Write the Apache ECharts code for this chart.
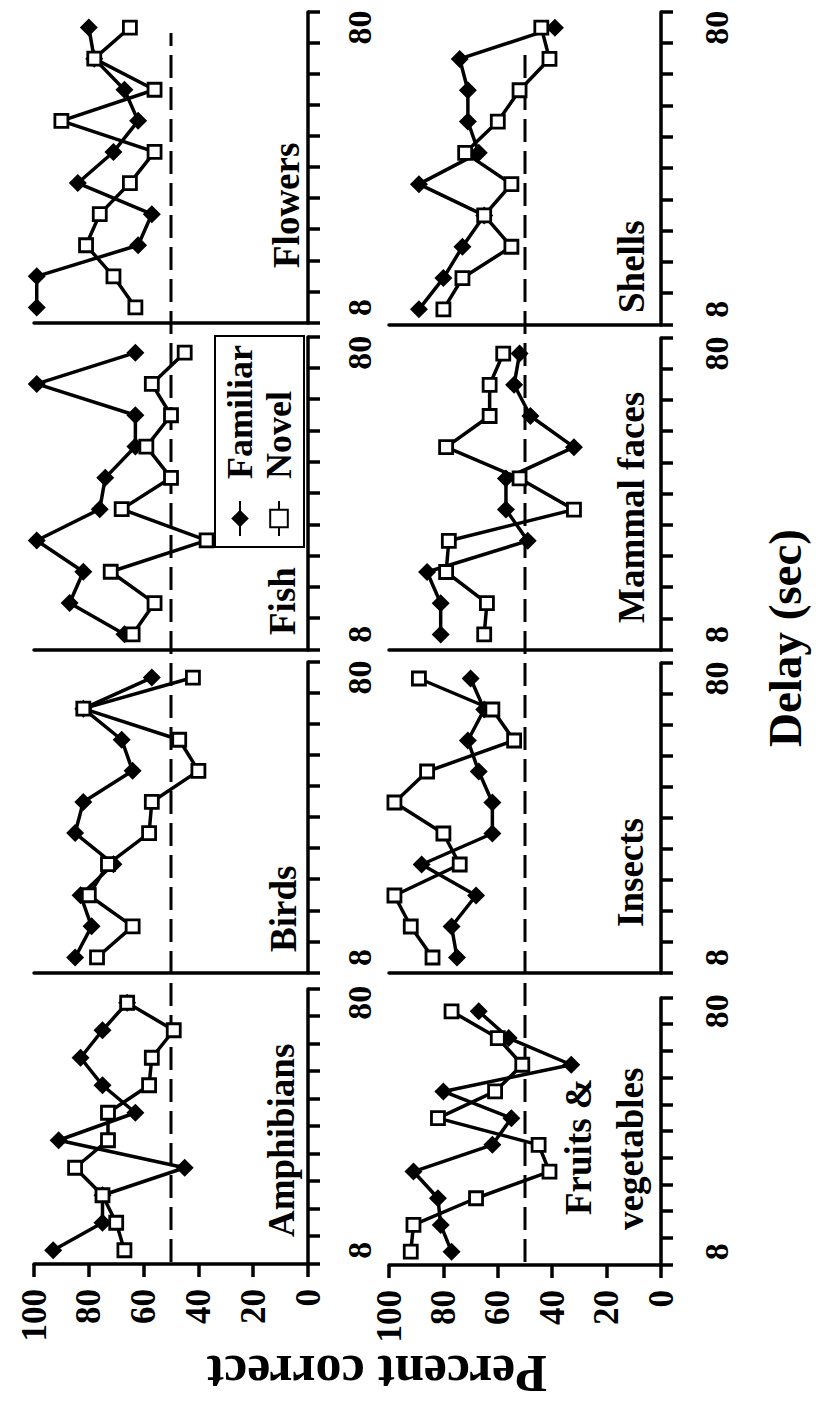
<!DOCTYPE html>
<html>
<head>
<meta charset="utf-8">
<script src="https://cdn.jsdelivr.net/npm/echarts@6/dist/echarts.min.js"></script>
<style>
  html, body { margin: 0; padding: 0; background: #fff; overflow: hidden; width: 816px; height: 1403px; }
  #chart { position: absolute; left: 0; top: 0; width: 1403px; height: 816px;
           transform-origin: 0 0; transform: translate(0px, 1403px) rotate(-90deg); }
</style>
</head>
<body>
<div id="chart"></div>
<script>
// ---------------- data ----------------
const DELAYS = ['8', '16', '24', '32', '40', '48', '56', '64', '72', '80'];
const CHANCE = 50;
const SERIES_NAMES = ['Familiar', 'Novel'];
const AXIS_TITLE_X = 'Delay (sec)';
const AXIS_TITLE_Y = 'Percent correct';

const AMPHIBIANS_FAMILIAR = [93, 75, 75, 45, 91, 63, 75, 83, 75, 66];
const AMPHIBIANS_NOVEL    = [67, 70, 75, 85, 73, 73, 58, 57, 49, 66];
const BIRDS_FAMILIAR      = [85, 79, 83, 71, 85, 82, 64, 68, 82, 57];
const BIRDS_NOVEL         = [77, 64, 80, 73, 58, 57, 40, 47, 82, 42];
const FISH_FAMILIAR       = [67, 87, 82, 99, 76, 74, 63, 63, 99, 63];
const FISH_NOVEL          = [64, 56, 72, 37, 68, 50, 59, 50, 57, 45];
const FLOWERS_FAMILIAR    = [99, 99, 62, 57, 84, 71, 62, 67, 78, 80];
const FLOWERS_NOVEL       = [63, 71, 81, 76, 65, 56, 90, 56, 78, 65];
const FRUITS_FAMILIAR     = [77, 81, 82, 91, 62, 55, 80, 33, 56, 67];
const FRUITS_NOVEL        = [92, 91, 68, 41, 45, 82, 61, 51, 60, 77];
const INSECTS_FAMILIAR    = [75, 77, 68, 88, 62, 62, 67, 71, 65, 70];
const INSECTS_NOVEL       = [84, 92, 98, 74, 80, 98, 86, 54, 62, 89];
const MAMMAL_FAMILIAR     = [81, 81, 86, 49, 57, 57, 32, 48, 54, 52];
const MAMMAL_NOVEL        = [65, 64, 79, 78, 32, 52, 79, 63, 63, 58];
const SHELLS_FAMILIAR     = [89, 80, 73, 65, 89, 67, 71, 71, 74, 39];
const SHELLS_NOVEL        = [80, 73, 55, 65, 55, 72, 60, 52, 41, 44];

const PANEL_TITLES = ['Amphibians', 'Birds', 'Fish', 'Flowers',
                      'Fruits &\nvegetables', 'Insects', 'Mammal faces', 'Shells'];
const PANEL_FAMILIAR = [AMPHIBIANS_FAMILIAR, BIRDS_FAMILIAR, FISH_FAMILIAR, FLOWERS_FAMILIAR,
                        FRUITS_FAMILIAR, INSECTS_FAMILIAR, MAMMAL_FAMILIAR, SHELLS_FAMILIAR];
const PANEL_NOVEL = [AMPHIBIANS_NOVEL, BIRDS_NOVEL, FISH_NOVEL, FLOWERS_NOVEL,
                     FRUITS_NOVEL, INSECTS_NOVEL, MAMMAL_NOVEL, SHELLS_NOVEL];

// ---------------- layout (unrotated figure coordinates) ----------------
const FONT = '"Liberation Serif", "Times New Roman", serif';
const ROWS = [{ top: 34, height: 274, labelMargin: 34 }, { top: 389, height: 272, labelMargin: 38 }];
const PANEL_BOX = [
  { left: 139, width: 275 }, { left: 430, width: 311 }, { left: 753, width: 313 }, { left: 1080, width: 311 },
  { left: 138, width: 267 }, { left: 430, width: 310 }, { left: 753, width: 312 }, { left: 1078, width: 313 }
];
const TITLE_POS = [
  [166, 281], [451, 283], [768, 282], [1135, 286],
  [188, 578], [476, 630], [780, 631], [1090, 631]
];
const REF_LINES = [{ left: 141, width: 1229 }, { left: 141, width: 1214 }];

const grids = [], xAxes = [], yAxes = [], series = [], graphics = [];

PANEL_TITLES.forEach((title, i) => {
  const row = i < 4 ? 0 : 1;
  const first = (i % 4) === 0;
  const R = ROWS[row], B = PANEL_BOX[i];
  grids.push({ left: B.left, width: B.width, top: R.top, height: R.height, containLabel: false });
  xAxes.push({
    type: 'category', gridIndex: i, data: DELAYS, boundaryGap: true,
    axisLine: { lineStyle: { color: '#000', width: 3.5 } },
    axisTick: { show: true, interval: 0, length: 12, alignWithLabel: false, lineStyle: { color: '#000', width: 3.5 } },
    axisLabel: { interval: (idx) => idx === 0 || idx === DELAYS.length - 1, margin: R.labelMargin,
                 color: '#000', fontFamily: FONT, fontWeight: 'bold', fontSize: 34 },
    splitLine: { show: false }
  });
  yAxes.push({
    type: 'value', gridIndex: i, min: 0, max: 100, interval: 20,
    axisLine: { show: true, lineStyle: { color: '#000', width: 3.5 } },
    axisTick: { show: first, length: 13, lineStyle: { color: '#000', width: 3.5 } },
    axisLabel: { show: first, margin: 25, color: '#000', fontFamily: FONT, fontWeight: 'bold', fontSize: 35 },
    splitLine: { show: false }
  });
  series.push({
    name: SERIES_NAMES[0], type: 'line', xAxisIndex: i, yAxisIndex: i, data: PANEL_FAMILIAR[i],
    symbol: 'diamond', symbolSize: 18, showAllSymbol: true, z: 3,
    lineStyle: { color: '#000', width: 3.5 }, itemStyle: { color: '#000' }
  });
  series.push({
    name: SERIES_NAMES[1], type: 'line', xAxisIndex: i, yAxisIndex: i, data: PANEL_NOVEL[i],
    symbol: 'rect', symbolSize: 13, showAllSymbol: true, z: 4,
    lineStyle: { color: '#000', width: 3.5 }, itemStyle: { color: '#fff', borderColor: '#000', borderWidth: 2.8 }
  });
  const lines = title.split('\n');
  lines.forEach((t, k) => {
    const pos = (k === 0) ? TITLE_POS[i] : [173, 630];
    graphics.push({ type: 'text', x: pos[0], y: pos[1], silent: true,
      style: { text: t, fill: '#000', font: 'bold 37px ' + FONT,
               align: 'left', verticalAlign: 'middle', textAlign: 'left', textVerticalAlign: 'middle' } });
  });
});

// chance reference lines spanning each row
REF_LINES.forEach((L, r) => {
  const gi = grids.length;
  grids.push({ left: L.left, width: L.width, top: ROWS[r].top, height: ROWS[r].height });
  xAxes.push({ type: 'value', gridIndex: gi, min: 0, max: 1, show: false });
  yAxes.push({ type: 'value', gridIndex: gi, min: 0, max: 100, show: false });
  series.push({ type: 'line', name: 'chance', xAxisIndex: gi, yAxisIndex: gi, data: [[0, CHANCE], [1, CHANCE]],
    symbol: 'none', silent: true, z: 1,
    lineStyle: { color: '#000', width: 3, type: [23, 9] } });
});

graphics.push({ type: 'text', x: 765, y: 785, silent: true,
  style: { text: AXIS_TITLE_X, fill: '#000', font: 'bold 47px ' + FONT,
           align: 'center', verticalAlign: 'middle', textAlign: 'center', textVerticalAlign: 'middle' } });
graphics.push({ type: 'text', x: 30, y: 377, rotation: Math.PI / 2, silent: true,
  style: { text: AXIS_TITLE_Y, fill: '#000', font: 'bold 52px ' + FONT,
           align: 'center', verticalAlign: 'middle', textAlign: 'center', textVerticalAlign: 'middle' } });

const chart = echarts.init(document.getElementById('chart'), null, { renderer: 'svg' });
chart.setOption({
  backgroundColor: '#fff',
  animation: false,
  grid: grids, xAxis: xAxes, yAxis: yAxes, series: series,
  legend: {
    data: SERIES_NAMES, orient: 'vertical', left: 856, top: 215,
    padding: [7, 9, 7, 10], itemGap: 3, itemWidth: 35, itemHeight: 22,
    borderColor: '#000', borderWidth: 2, backgroundColor: '#fff',
    textStyle: { color: '#000', fontFamily: FONT, fontWeight: 'bold', fontSize: 36, padding: [0, 0, 0, 17] }
  },
  graphic: graphics
});
</script>
</body>
</html>
